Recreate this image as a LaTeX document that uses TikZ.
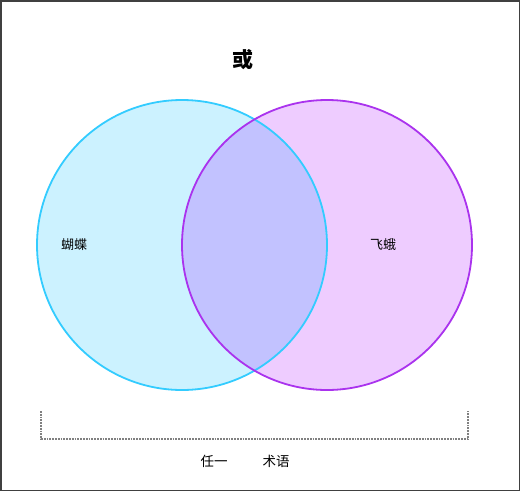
\documentclass[tikz,border=0pt]{standalone}
\usepackage{fontspec}
\setmainfont{Noto Sans CJK SC}
\definecolor{butterflyfill}{RGB}{204,242,255}
\definecolor{butterflyline}{RGB}{51,204,255}
\definecolor{mothfill}{RGB}{238,204,255}
\definecolor{mothline}{RGB}{170,51,238}
\definecolor{bothfill}{RGB}{194,194,255}
\tikzset{
    setlabel/.style={font=\fontsize{13}{15}\selectfont},
    termlabel/.style={font=\fontsize{13.5}{16}\selectfont},
}
\begin{document}
\begin{tikzpicture}[x=1pt,y=-1pt]
        \useasboundingbox (0,0) rectangle (520,491);
        \fill[white] (0,0) rectangle (520,491);
        \draw[black!75, line width=1.5pt] (0.75,0.75) rectangle (519.25,490.25);
        \node (title) at (243,60) {\fontsize{21}{25}\selectfont\bfseries 或};
        \fill[butterflyfill] (182,245) circle (145);
        \fill[mothfill] (327,245) circle (145);
        \begin{scope}
            \clip (182,245) circle (145);
            \fill[bothfill] (327,245) circle (145);
        \end{scope}
        \draw[butterflyline, line width=1.8pt] (182,245) circle (145);
        \draw[mothline, line width=1.8pt] (327,245) circle (145);
        \node[setlabel] (butterfly) at (74,245) {蝴蝶};
        \node[setlabel] (moth) at (383,245) {飞蛾};
        % bracket under both sets
        \coordinate (bl) at (41,411);
        \coordinate (br) at (468,411);
        \draw[gray, densely dotted, line width=1.8pt] (bl) -- (bl |- 0,439) -- (br |- 0,439) -- (br);
        \node[termlabel] (any) at (214,461) {任一};
        \node[termlabel] (term) at (276,461) {术语};
    \end{tikzpicture}
\end{document}
